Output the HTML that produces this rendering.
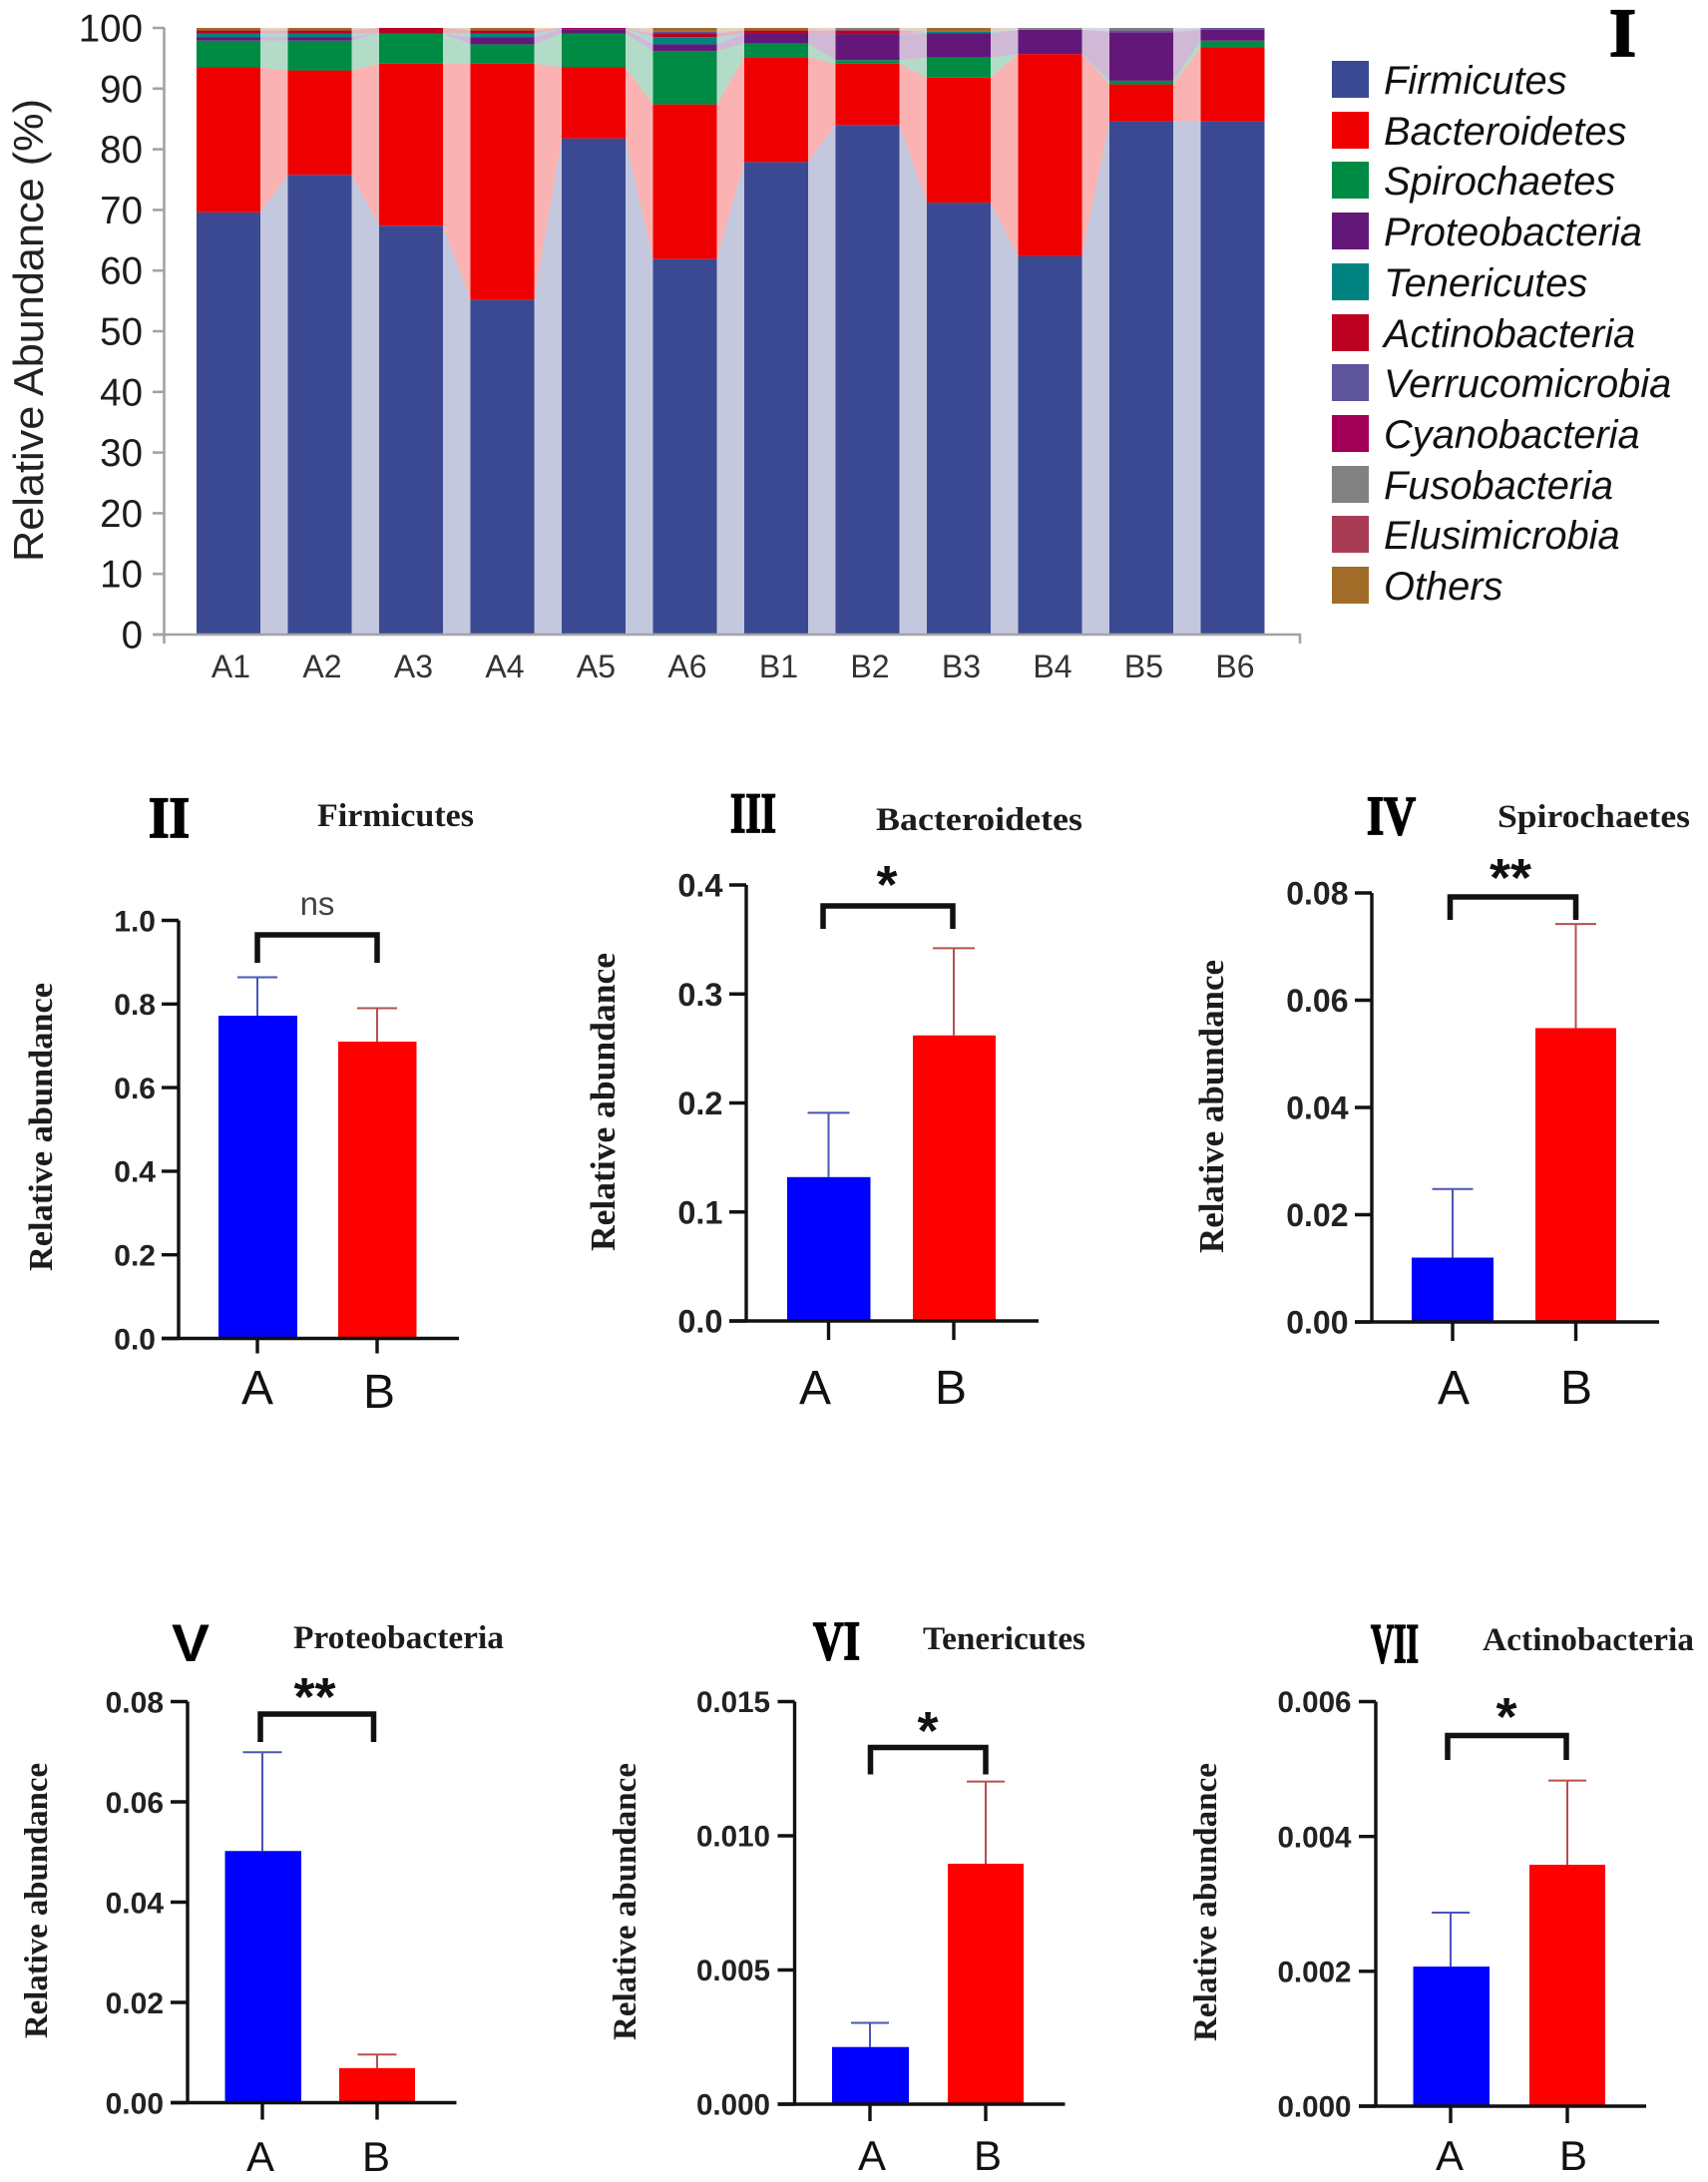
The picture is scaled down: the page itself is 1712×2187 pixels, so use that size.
<!DOCTYPE html>
<html lang="en">
<head>
<meta charset="utf-8">
<title>Relative abundance of gut microbiota</title>
<style>
html,body{margin:0;padding:0;background:#fff;}
svg{display:block;}
.num{font-family:"Liberation Serif",serif;font-weight:700;fill:#000;stroke:#000;stroke-width:1.8px;}
.nums{font-family:"Liberation Sans",sans-serif;font-weight:700;fill:#000;}
.ttl{font-family:"Liberation Serif",serif;font-weight:700;fill:#1c1c1c;}
.ytl{font-family:"Liberation Serif",serif;font-weight:700;fill:#1c1c1c;}
.leg{font-family:"Liberation Sans",sans-serif;font-style:italic;fill:#111;font-size:39.8px;}
.grp{font-family:"Liberation Sans",sans-serif;fill:#111;}
</style>
</head>
<body>
<svg id="figure" xmlns="http://www.w3.org/2000/svg" width="1712" height="2187" viewBox="0 0 1712 2187">
  <rect width="1712" height="2187" fill="#fff"/>
  <g id="stack-chart"></g>
  <g id="panels"></g>

  <text transform="translate(43,563) rotate(-90)" font-family="Liberation Sans, sans-serif" font-size="42" fill="#222" textLength="464" lengthAdjust="spacingAndGlyphs">Relative Abundance (%)</text>

  <g>
    <g><rect x="1335" y="61" width="37" height="37" fill="#3b4992"/><text class="leg" x="1387" y="94">Firmicutes</text></g>
    <g><rect x="1335" y="112" width="37" height="37" fill="#ee0000"/><text class="leg" x="1387" y="145">Bacteroidetes</text></g>
    <g><rect x="1335" y="162" width="37" height="37" fill="#008b45"/><text class="leg" x="1387" y="195">Spirochaetes</text></g>
    <g><rect x="1335" y="213" width="37" height="37" fill="#631879"/><text class="leg" x="1387" y="246">Proteobacteria</text></g>
    <g><rect x="1335" y="264" width="37" height="37" fill="#008280"/><text class="leg" x="1387" y="297">Tenericutes</text></g>
    <g><rect x="1335" y="315" width="37" height="37" fill="#bb0021"/><text class="leg" x="1387" y="348">Actinobacteria</text></g>
    <g><rect x="1335" y="365" width="37" height="37" fill="#5f559b"/><text class="leg" x="1387" y="398">Verrucomicrobia</text></g>
    <g><rect x="1335" y="416" width="37" height="37" fill="#a20056"/><text class="leg" x="1387" y="449">Cyanobacteria</text></g>
    <g><rect x="1335" y="467" width="37" height="37" fill="#808180"/><text class="leg" x="1387" y="500">Fusobacteria</text></g>
    <g><rect x="1335" y="517" width="37" height="37" fill="#a83c55"/><text class="leg" x="1387" y="550">Elusimicrobia</text></g>
    <g><rect x="1335" y="568" width="37" height="37" fill="#a16c28"/><text class="leg" x="1387" y="601">Others</text></g>
  </g>

  <text class="num" x="1613" y="56" font-size="69" textLength="27" lengthAdjust="spacingAndGlyphs">I</text>
  <text class="num" x="149" y="839" font-size="58" textLength="41" lengthAdjust="spacingAndGlyphs">II</text>
  <text class="num" x="732" y="834" font-size="57" textLength="46" lengthAdjust="spacingAndGlyphs">III</text>
  <text class="num" x="1370" y="836" font-size="55" textLength="49" lengthAdjust="spacingAndGlyphs">IV</text>
  <text class="nums" x="172" y="1665" font-size="53" textLength="38" lengthAdjust="spacingAndGlyphs">V</text>
  <text class="num" x="815" y="1663" font-size="55" textLength="47" lengthAdjust="spacingAndGlyphs">VI</text>
  <text class="num" x="1374" y="1666" font-size="56" textLength="48" lengthAdjust="spacingAndGlyphs">VII</text>

  <text class="ttl" x="318" y="828" font-size="33" textLength="157" lengthAdjust="spacingAndGlyphs">Firmicutes</text>
  <text class="ttl" x="878" y="832" font-size="33" textLength="207" lengthAdjust="spacingAndGlyphs">Bacteroidetes</text>
  <text class="ttl" x="1501" y="829" font-size="33" textLength="193" lengthAdjust="spacingAndGlyphs">Spirochaetes</text>
  <text class="ttl" x="294" y="1652" font-size="33" textLength="211" lengthAdjust="spacingAndGlyphs">Proteobacteria</text>
  <text class="ttl" x="925" y="1653" font-size="33" textLength="163" lengthAdjust="spacingAndGlyphs">Tenericutes</text>
  <text class="ttl" x="1486" y="1654" font-size="33" textLength="212" lengthAdjust="spacingAndGlyphs">Actinobacteria</text>

  <text class="ytl" transform="translate(52,1274) rotate(-90)" font-size="34" textLength="289" lengthAdjust="spacingAndGlyphs">Relative abundance</text>
  <text class="ytl" transform="translate(616,1254) rotate(-90)" font-size="35" textLength="299" lengthAdjust="spacingAndGlyphs">Relative abundance</text>
  <text class="ytl" transform="translate(1226,1256) rotate(-90)" font-size="35" textLength="294" lengthAdjust="spacingAndGlyphs">Relative abundance</text>
  <text class="ytl" transform="translate(47,2043) rotate(-90)" font-size="33" textLength="276" lengthAdjust="spacingAndGlyphs">Relative abundance</text>
  <text class="ytl" transform="translate(637,2045) rotate(-90)" font-size="33" textLength="278" lengthAdjust="spacingAndGlyphs">Relative abundance</text>
  <text class="ytl" transform="translate(1219,2046) rotate(-90)" font-size="33" textLength="279" lengthAdjust="spacingAndGlyphs">Relative abundance</text>

  <g>
    <text class="grp" x="258" y="1407" font-size="48" text-anchor="middle">A</text>
    <text class="grp" x="380" y="1411" font-size="48" text-anchor="middle">B</text>
    <text class="grp" x="817" y="1407" font-size="48" text-anchor="middle">A</text>
    <text class="grp" x="953" y="1407" font-size="48" text-anchor="middle">B</text>
    <text class="grp" x="1457" y="1407" font-size="48" text-anchor="middle">A</text>
    <text class="grp" x="1580" y="1407" font-size="48" text-anchor="middle">B</text>
    <text class="grp" x="261" y="2176" font-size="42" text-anchor="middle">A</text>
    <text class="grp" x="377" y="2176" font-size="42" text-anchor="middle">B</text>
    <text class="grp" x="874" y="2175" font-size="42" text-anchor="middle">A</text>
    <text class="grp" x="990" y="2175" font-size="42" text-anchor="middle">B</text>
    <text class="grp" x="1453" y="2175" font-size="42" text-anchor="middle">A</text>
    <text class="grp" x="1577" y="2175" font-size="42" text-anchor="middle">B</text>
  </g>
</svg>

<script>
// ---------- stacked chart data (percent per sample) ----------
const sampleLabels = ['A1','A2','A3','A4','A5','A6','B1','B2','B3','B4','B5','B6'];
const stackTicks = [0,10,20,30,40,50,60,70,80,90,100];
const firmicutes     = [69.6,75.8,67.4,55.2,81.8,61.9,77.9,84.0,71.2,62.4,84.6,84.6];
const bacteroidetes  = [23.9,17.2,26.7,38.9,11.7,25.5,17.3,10.1,20.6,33.3,6.1,12.2];
const spirochaetes   = [4.4,4.9,5.0,3.2,5.6,8.8,2.2,0.6,3.3,0,0.6,1.1];
const proteobacteria = [0.6,0.6,0,1.2,0.7,1.1,1.7,4.3,4.0,4.0,8.0,1.8];
const tenericutes    = [0.6,0.6,0,0.6,0,1.2,0,0,0.3,0,0,0];
const actinobacteria = [0.5,0.5,0.9,0.5,0,0.6,0.5,0.6,0,0,0,0];
const verrucomicrobia= [0,0,0,0,0,0.3,0,0,0,0,0.3,0.3];
const cyanobacteria  = [0,0,0,0,0.2,0,0,0,0,0,0,0];
const fusobacteria   = [0,0,0,0,0,0,0,0.4,0,0.3,0.4,0];
const elusimicrobia  = [0,0,0,0,0,0,0,0,0,0,0,0];
const others         = [0.4,0.4,0,0.4,0,0.6,0.4,0,0.6,0,0,0];

// ---------- group comparison data ----------
const firmicutesMeans = [0.772,0.710];
const firmicutesUpper = [0.864,0.790];
const firmicutesTicks = ['0.0','0.2','0.4','0.6','0.8','1.0'];
const bacteroidetesMeans = [0.132,0.262];
const bacteroidetesUpper = [0.191,0.342];
const bacteroidetesTicks = ['0.0','0.1','0.2','0.3','0.4'];
const spirochaetesMeans = [0.012,0.0548];
const spirochaetesUpper = [0.0248,0.0742];
const spirochaetesTicks = ['0.00','0.02','0.04','0.06','0.08'];
const proteobacteriaMeans = [0.0502,0.0069];
const proteobacteriaUpper = [0.0699,0.0096];
const proteobacteriaTicks = ['0.00','0.02','0.04','0.06','0.08'];
const tenericutesMeans = [0.00213,0.00896];
const tenericutesUpper = [0.00303,0.01202];
const tenericutesTicks = ['0.000','0.005','0.010','0.015'];
const actinobacteriaMeans = [0.00207,0.00358];
const actinobacteriaUpper = [0.00287,0.00483];
const actinobacteriaTicks = ['0.000','0.002','0.004','0.006'];

const NS = 'http://www.w3.org/2000/svg';
function mk(tag, attrs, parent){
  const el = document.createElementNS(NS, tag);
  for (const k in attrs) el.setAttribute(k, attrs[k]);
  parent.appendChild(el);
  return el;
}

// ---------- stacked chart ----------
(function(){
  const root = document.getElementById('stack-chart');
  const series = [firmicutes,bacteroidetes,spirochaetes,proteobacteria,tenericutes,actinobacteria,verrucomicrobia,cyanobacteria,fusobacteria,elusimicrobia,others];
  const names = ['firmicutes','bacteroidetes','spirochaetes','proteobacteria','tenericutes','actinobacteria','verrucomicrobia','cyanobacteria','fusobacteria','elusimicrobia','others'];
  const colors = ['#3b4992','#ee0000','#008b45','#631879','#008280','#bb0021','#5f559b','#a20056','#808180','#a83c55','#a16c28'];
  const y = v => 636 - v * 6.08;
  const x = i => 197 + i * 91.5;
  const barW = 64;
  const cum = sampleLabels.map(() => 0);

  series.forEach((vals, s) => {
    const lows = cum.slice();
    vals.forEach((v, i) => { cum[i] += v; });
    for (let i = 0; i < sampleLabels.length - 1; i++) {
      if (vals[i] === 0 && vals[i + 1] === 0) continue;
      const xa = x(i) + barW, xb = x(i + 1);
      const link = mk('polygon', {
        points: xa+','+y(cum[i])+' '+xb+','+y(cum[i+1])+' '+xb+','+y(lows[i+1])+' '+xa+','+y(lows[i]),
        fill: colors[s], 'fill-opacity': 0.3
      }, root);
      
      
    }
    vals.forEach((v, i) => {
      if (v === 0) return;
      const seg = mk('rect', {x: x(i), y: y(lows[i] + v), width: barW, height: v * 6.08, fill: colors[s]}, root);
      
      
    });
  });

  const yAxis = mk('line', {x1: 164.5, x2: 164.5, y1: y(100), y2: 645, stroke: '#a3a3a3', 'stroke-width': 2.6}, root);
  
  
  const xAxis = mk('path', {d: 'M153,636 H1303 V645', fill: 'none', stroke: '#a3a3a3', 'stroke-width': 2.6}, root);
  
  

  stackTicks.forEach(t => {
    const tick = mk('line', {x1: 153, x2: 165, y1: y(t), y2: y(t), stroke: '#a3a3a3', 'stroke-width': 2.6}, root);
    
    
    const lab = mk('text', {x: 143, y: y(t) + 13.5, 'text-anchor': 'end', 'font-family': 'Liberation Sans, sans-serif', 'font-size': 38.5, fill: '#1c1c1c'}, root);
    lab.textContent = t;
    
    
  });
  sampleLabels.forEach((name, i) => {
    const lab = mk('text', {x: x(i) + barW / 2 + 2.5, y: 679, 'text-anchor': 'middle', 'font-family': 'Liberation Sans, sans-serif', 'font-size': 32, fill: '#333'}, root);
    lab.textContent = name;
    
    
  });
})();

// ---------- bar panels ----------
function drawPanel(p){
  const root = document.getElementById('panels');
  const g = mk('g', {}, root);
  
  
  const maxV = parseFloat(p.ticks[p.ticks.length - 1]);
  const y = v => p.y0 - (v / maxV) * (p.y0 - p.yTop);
  const fills = ['#0000ff', '#ff0000'];
  const errs = ['#4a55b5', '#b5504f'];

  p.means.forEach((m, i) => {
    const b = p.bars[i];
    const bar = mk('rect', {x: b[0], y: y(m), width: b[1] - b[0], height: p.y0 - y(m), fill: fills[i]}, g);
    
    
    const cx = p.xTicks[i];
    const err = mk('path', {d: 'M' + cx + ',' + y(m) + ' V' + y(p.upper[i]) + ' M' + (cx - p.cap) + ',' + y(p.upper[i]) + ' H' + (cx + p.cap), fill: 'none', stroke: errs[i], 'stroke-width': 2}, g);
    
    
    const tick = mk('line', {x1: cx, x2: cx, y1: p.y0, y2: p.y0 + p.tickLen, stroke: '#111', 'stroke-width': 3.4}, g);
    
    
  });

  const axis = mk('path', {d: 'M' + p.axisX + ',' + p.yTop + ' V' + p.y0 + ' M' + (p.axisX - 17) + ',' + p.y0 + ' H' + p.xEnd, fill: 'none', stroke: '#111', 'stroke-width': 3.4}, g);
  
  

  p.ticks.forEach(t => {
    const v = parseFloat(t);
    const tick = mk('line', {x1: p.axisX - 17, x2: p.axisX, y1: y(v), y2: y(v), stroke: '#111', 'stroke-width': 3.4}, g);
    
    
    const lab = mk('text', {x: p.labelRight, y: y(v) + p.font * 0.36, 'text-anchor': 'end', 'font-family': 'Liberation Sans, sans-serif', 'font-weight': 700, 'font-size': p.font, fill: '#222'}, g);
    lab.textContent = t;
    
    
  });

  const br = p.bracket;
  const bracket = mk('path', {d: 'M' + br[0] + ',' + br[3] + ' V' + br[2] + ' H' + br[1] + ' V' + br[3], fill: 'none', stroke: '#111', 'stroke-width': 5.5}, g);
  
  
  const sig = mk('text', {x: p.sigX, y: p.sigY, 'text-anchor': 'middle', 'font-family': 'Liberation Sans, sans-serif', 'font-weight': p.sig === 'ns' ? 400 : 700, 'font-size': p.sig === 'ns' ? 33 : 54, fill: p.sig === 'ns' ? '#444' : '#111'}, g);
  sig.textContent = p.sig;
  
  
}

drawPanel({name:'firmicutes', means:firmicutesMeans, upper:firmicutesUpper, ticks:firmicutesTicks,
  axisX:179, y0:1341.5, yTop:922.5, xEnd:460, bars:[[219,298],[339,417.5]], xTicks:[258,378], cap:20, tickLen:15,
  labelRight:156, font:30, bracket:[258,378,937,965], sig:'ns', sigX:318, sigY:917});
drawPanel({name:'bacteroidetes', means:bacteroidetesMeans, upper:bacteroidetesUpper, ticks:bacteroidetesTicks,
  axisX:748, y0:1324, yTop:887, xEnd:1041, bars:[[789,872.5],[915,998]], xTicks:[830.5,956], cap:21, tickLen:19,
  labelRight:724.5, font:32.5, bracket:[825,955,908,931], sig:'*', sigX:889, sigY:905});
drawPanel({name:'spirochaetes', means:spirochaetesMeans, upper:spirochaetesUpper, ticks:spirochaetesTicks,
  axisX:1375, y0:1325, yTop:895, xEnd:1663, bars:[[1415,1497],[1539,1620]], xTicks:[1456,1579.5], cap:20.5, tickLen:19,
  labelRight:1351.5, font:32, bracket:[1453.5,1579.5,899,922], sig:'**', sigX:1514, sigY:898});
drawPanel({name:'proteobacteria', means:proteobacteriaMeans, upper:proteobacteriaUpper, ticks:proteobacteriaTicks,
  axisX:188, y0:2107.5, yTop:1705.5, xEnd:457.5, bars:[[225.5,302],[340,416]], xTicks:[263,378], cap:19.5, tickLen:17,
  labelRight:164, font:30, bracket:[261,374.5,1718,1746], sig:'**', sigX:315.5, sigY:1719});
drawPanel({name:'tenericutes', means:tenericutesMeans, upper:tenericutesUpper, ticks:tenericutesTicks,
  axisX:796.5, y0:2109, yTop:1705.5, xEnd:1067.5, bars:[[834,911],[950,1026]], xTicks:[872,988], cap:19, tickLen:17,
  labelRight:772, font:29.6, bracket:[872.5,988,1751.5,1778.5], sig:'*', sigX:930, sigY:1753});
drawPanel({name:'actinobacteria', means:actinobacteriaMeans, upper:actinobacteriaUpper, ticks:actinobacteriaTicks,
  axisX:1379, y0:2111, yTop:1705.5, xEnd:1650, bars:[[1416.5,1493],[1533,1609]], xTicks:[1454,1571], cap:19, tickLen:17,
  labelRight:1354.5, font:29.6, bracket:[1451,1570,1739.5,1764], sig:'*', sigX:1510, sigY:1739});
</script>
</body>
</html>
